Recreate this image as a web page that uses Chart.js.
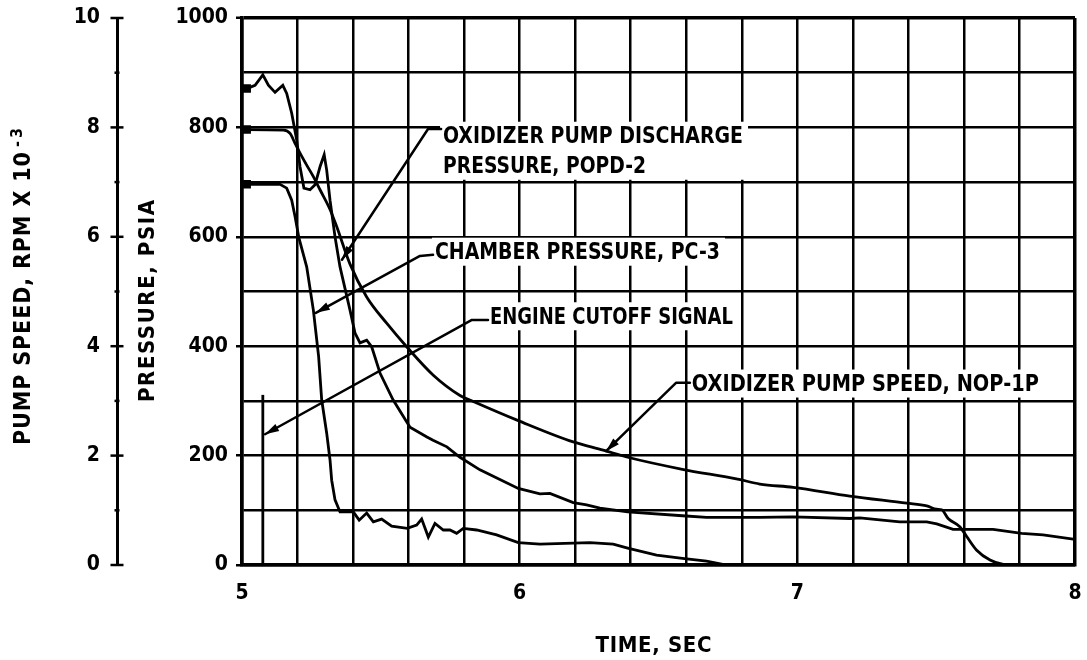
<!DOCTYPE html>
<html><head><meta charset="utf-8">
<script src="https://cdn.jsdelivr.net/npm/chart.js@4.4.1/dist/chart.umd.min.js"></script>
<style>html,body{margin:0;padding:0;background:#fff;}canvas{display:block;}</style>
</head><body>
<canvas id="c" width="1087" height="660"></canvas>
<script>
// ---------------- data ----------------
const timeTickLabels = [5, 6, 7, 8];
const pressureTickLabels = [0, 200, 400, 600, 800, 1000];
const speedTickLabels = [0, 2, 4, 6, 8, 10];

// Oxidizer pump discharge pressure, POPD-2 (psia)
const popdTime = [5.000,5.017,5.047,5.075,5.095,5.119,5.147,5.161,5.179,5.197,5.209,5.223,5.245,5.263,5.281,5.296,5.305,5.317,5.335,5.353,5.389,5.407,5.425,5.449,5.467,5.497,5.544,5.605,5.666,5.688,5.738,5.785,5.857,5.995,6.073,6.109,6.193,6.241,6.289,6.389,6.586,6.673,6.865,6.985,7.189,7.225,7.369,7.466,7.502,7.561,7.600,7.705,7.808,7.885,8.000];
const popdPsia = [868,871,877,896,877,864,877,862,826,777,728,689,686,695,728,750,722,667,600,545,466,424,406,411,399,351,302,252,234,228,216,197,174,140,130,131,114,110,104,97,90,87,87,88,85,86,79,79,75,65,65,65,58,55,47];

// Chamber pressure, PC-3 (psia)
const pcTime = [5.000,5.017,5.137,5.161,5.179,5.191,5.205,5.233,5.257,5.276,5.287,5.305,5.317,5.323,5.335,5.353,5.401,5.422,5.449,5.473,5.503,5.539,5.595,5.629,5.647,5.671,5.695,5.725,5.749,5.773,5.797,5.845,5.917,5.995,6.073,6.193,6.253,6.337,6.389,6.493,6.586,6.673,6.745];
const pcPsia = [696,696,696,689,667,637,598,545,466,381,302,241,192,155,119,97,97,82,95,79,84,71,67,73,84,51,76,64,64,58,67,64,55,41,38,40,41,38,31,18,12,7,0];

// Oxidizer pump speed, NOP-1P (rpm x 10^-3)
const nopTime = [5.000,5.017,5.149,5.173,5.191,5.209,5.233,5.257,5.281,5.317,5.340,5.389,5.449,5.521,5.593,5.689,5.785,5.833,5.995,6.193,6.301,6.389,6.586,6.785,6.865,6.985,7.189,7.394,7.466,7.502,7.520,7.543,7.585,7.610,7.646,7.694,7.742,7.780];
const nopKrpm = [7.96,7.96,7.95,7.89,7.71,7.53,7.31,7.10,6.86,6.50,6.20,5.50,4.90,4.42,3.99,3.47,3.10,2.99,2.64,2.25,2.10,1.97,1.75,1.57,1.48,1.42,1.26,1.13,1.08,1.02,1.01,0.85,0.70,0.52,0.27,0.09,0.01,0];

// Engine cutoff signal (drawn on the pressure scale)
const cutoffTime = [5.075, 5.075];
const cutoffLevel = [0, 311];

// ---------------- annotations (data-space anchors) ----------------
const notes = [
  { lines: ['OXIDIZER PUMP DISCHARGE', 'PRESSURE, POPD-2'], widths: [300, 203], x: 5.724, y: 782,
    leader: [[5.717, 797], [5.670, 797], [5.360, 558]] },
  { lines: ['CHAMBER PRESSURE, PC-3'], widths: [285], x: 5.695, y: 570,
    leader: [[5.688, 567], [5.641, 565], [5.266, 461]] },
  { lines: ['ENGINE CUTOFF SIGNAL'], widths: [243], x: 5.893, y: 452,
    leader: [[5.886, 448], [5.828, 448], [5.083, 239]] },
  { lines: ['OXIDIZER PUMP SPEED, NOP-1P'], widths: [347], x: 6.620, y: 329,
    leader: [[6.613, 333], [6.563, 333], [6.311, 208]] }
];

// ---------------- rendering ----------------
const FONT = "'DejaVu Sans Condensed','DejaVu Sans',sans-serif";
const toPts = (xs, ys) => xs.map((x, i) => ({ x: x, y: ys[i] }));

function fitText(ctx, text, x, y, target) {
  ctx.save();
  if ('letterSpacing' in ctx) ctx.letterSpacing = '0px';
  const w = ctx.measureText(text).width;
  const n = [...text].length;
  if ('letterSpacing' in ctx && w < target && n > 1) {
    ctx.letterSpacing = ((target - w) / (n - 1)) + 'px';
    ctx.fillText(text, x, y);
  } else {
    ctx.translate(x, y);
    ctx.scale(target / w, 1);
    ctx.fillText(text, 0, 0);
  }
  ctx.restore();
}

function noPad(s) { s.paddingTop = 0; s.paddingBottom = 0; s.paddingLeft = 0; s.paddingRight = 0; }

const lineStyle = {
  borderColor: '#000', backgroundColor: '#000', borderWidth: 2.8, fill: false,
  pointStyle: 'rect', pointBackgroundColor: '#000', pointBorderColor: '#000',
  pointRadius: c => (c.dataIndex === 1 ? 4 : 0), pointHoverRadius: 0
};

const annotationPlugin = {
  id: 'notes',
  afterDatasetsDraw(chart) {
    const ctx = chart.ctx, xs = chart.scales.x, ys = chart.scales.y;
    ctx.save();
    ctx.font = 'bold 23px ' + FONT;
    ctx.textBaseline = 'middle';
    ctx.textAlign = 'left';
    const step = 30, cap = 17;
    notes.forEach(n => {
      const x0 = xs.getPixelForValue(n.x), y0 = ys.getPixelForValue(n.y);
      const maxW = Math.max(...n.widths);
      const top = y0 - cap / 2 - 7, bottom = y0 + step * (n.lines.length - 1) + cap / 2 + 4;
      ctx.fillStyle = '#fff';
      ctx.fillRect(x0 - 3, top, maxW + 8, bottom - top);
      ctx.fillStyle = '#000';
      n.lines.forEach((t, i) => fitText(ctx, t, x0, y0 + i * step, n.widths[i]));
      // leader
      const pts = n.leader.map(p => [xs.getPixelForValue(p[0]), ys.getPixelForValue(p[1])]);
      ctx.strokeStyle = '#000'; ctx.lineWidth = 2.5; ctx.lineJoin = 'round'; ctx.lineCap = 'round';
      ctx.beginPath();
      pts.forEach((p, i) => (i ? ctx.lineTo(p[0], p[1]) : ctx.moveTo(p[0], p[1])));
      ctx.stroke();
      const tip = pts[pts.length - 1], prev = pts[pts.length - 2];
      const ang = Math.atan2(tip[1] - prev[1], tip[0] - prev[0]);
      ctx.save();
      ctx.translate(tip[0], tip[1]); ctx.rotate(ang);
      ctx.beginPath(); ctx.moveTo(0, 0); ctx.lineTo(-14, -4); ctx.lineTo(-14, 4); ctx.closePath();
      ctx.fill();
      ctx.restore();
    });
    ctx.restore();
  },
  afterDraw(chart) {
    const ctx = chart.ctx, s = chart.scales.ySpeed, xs = chart.scales.x;
    ctx.save();
    // crossing ticks on the pump-speed axis
    ctx.strokeStyle = '#000'; ctx.lineWidth = 2.5;
    s.ticks.forEach(t => {
      const y = s.getPixelForValue(t.value);
      const half = Math.round(t.value) % 2 === 0 ? 6.5 : 2.5;
      ctx.beginPath(); ctx.moveTo(s.right - half, y); ctx.lineTo(s.right + half, y); ctx.stroke();
    });
    // axis titles
    ctx.fillStyle = '#000';
    ctx.textBaseline = 'middle'; ctx.textAlign = 'left';
    ctx.font = 'bold 22px ' + FONT;
    fitText(ctx, 'TIME, SEC', (xs.left + xs.right) / 2 - 5 - 58, 646, 116);
    // pressure title
    ctx.save();
    ctx.translate(148, 301); ctx.rotate(-Math.PI / 2);
    fitText(ctx, 'PRESSURE, PSIA', -101, 0, 202);
    ctx.restore();
    // pump speed title with superscript
    ctx.save();
    ctx.translate(24, 445); ctx.rotate(-Math.PI / 2);
    ctx.font = 'bold 23px ' + FONT;
    fitText(ctx, 'PUMP SPEED, RPM X 10', 0, 0, 293);
    ctx.font = 'bold 16px ' + FONT;
    fitText(ctx, '-3', 298, -6, 19);
    ctx.restore();
    ctx.restore();
  }
};

const tickFont = { family: FONT, size: 21, weight: 'bold' };

new Chart(document.getElementById('c'), {
  type: 'line',
  data: {
    datasets: [
      Object.assign({ label: 'POPD-2', data: toPts(popdTime, popdPsia), yAxisID: 'y', tension: 0 }, lineStyle),
      Object.assign({ label: 'PC-3', data: toPts(pcTime, pcPsia), yAxisID: 'y', tension: 0 }, lineStyle),
      Object.assign({ label: 'NOP-1P', data: toPts(nopTime, nopKrpm), yAxisID: 'ySpeed', cubicInterpolationMode: 'monotone' }, lineStyle),
      Object.assign({ label: 'Engine cutoff signal', data: toPts(cutoffTime, cutoffLevel), yAxisID: 'y', tension: 0 }, lineStyle, { pointRadius: 0 })
    ]
  },
  options: {
    responsive: false, animation: false, devicePixelRatio: 1,
    layout: { autoPadding: false, padding: { left: 0, right: 12, top: 18, bottom: 0 } },
    plugins: { legend: { display: false }, tooltip: { enabled: false } },
    events: [],
    scales: {
      x: {
        type: 'linear', min: 5, max: 8,
        afterFit: s => { s.height = 95; noPad(s); },
        ticks: {
          stepSize: 0.2, autoSkip: false, maxRotation: 0, padding: 16, color: '#000', font: tickFont,
          callback: v => (timeTickLabels.some(t => Math.abs(t - v) < 1e-6) ? String(Math.round(v)) : '')
        },
        grid: {
          color: '#000', drawTicks: false,
          lineWidth: c => (c.tick && (Math.abs(c.tick.value - 8) < 1e-6) ? 3.5 : 2.5)
        },
        border: { display: true, color: '#000', width: 3.5 }
      },
      y: {
        type: 'linear', position: 'left', min: 0, max: 1000, weight: 0,
        afterFit: s => { s.width = 125; noPad(s); },
        ticks: {
          stepSize: 100, autoSkip: false, padding: 8, color: '#000', font: tickFont,
          callback: v => (pressureTickLabels.includes(Math.round(v)) ? String(Math.round(v)) : '')
        },
        grid: {
          color: '#000', drawTicks: true, tickLength: 6,
          tickColor: c => (c.tick && pressureTickLabels.includes(Math.round(c.tick.value)) ? '#000' : 'rgba(0,0,0,0)'),
          tickWidth: 2.5,
          lineWidth: c => (c.tick && Math.round(c.tick.value) === 1000 ? 3.5 : 2.5)
        },
        border: { display: true, color: '#000', width: 3.5 }
      },
      ySpeed: {
        type: 'linear', position: 'left', min: 0, max: 10, weight: 1,
        afterFit: s => { s.width = 117; noPad(s); },
        ticks: {
          stepSize: 1, autoSkip: false, padding: 17, color: '#000', font: tickFont,
          callback: v => (speedTickLabels.includes(Math.round(v)) ? String(Math.round(v)) : '')
        },
        grid: { drawOnChartArea: false, drawTicks: false },
        border: { display: true, color: '#000', width: 3 }
      }
    }
  },
  plugins: [annotationPlugin]
});
</script>
</body></html>
